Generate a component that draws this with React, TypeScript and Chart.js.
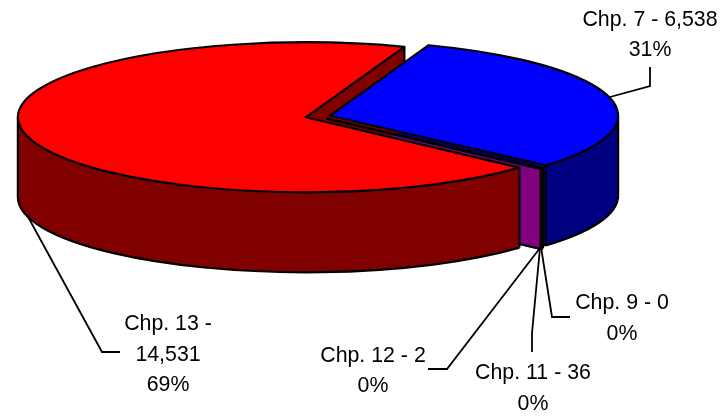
import React, { useEffect, useRef } from "react";
import { Chart, registerables } from "chart.js";

Chart.register(...registerables);

const categories = ["Chp. 7", "Chp. 9", "Chp. 11", "Chp. 12", "Chp. 13"];
const values = [6538, 0, 36, 2, 14531];
const topColors = ["#0000ff", "#ff00ff", "#ff00ff", "#ff00ff", "#ff0000"];
const wallColors = ["#000080", "#800080", "#800080", "#800080", "#800000"];

const labelLines = [
  ["Chp. 7 - 6,538", "31%"],
  ["Chp. 9 - 0", "0%"],
  ["Chp. 11 - 36", "0%"],
  ["Chp. 12 - 2", "0%"],
  ["Chp. 13 -", "14,531", "69%"],
];
const labelCenters = [650, 622, 533, 373, 168];
const labelBaselines = [
  [26, 56],
  [309, 340],
  [379, 410],
  [362, 392],
  [330, 361, 391],
];
const leaders = [
  [[610, 97], [650, 86], [650, 67]],
  [[541, 247], [552, 317], [570, 317]],
  [[540, 248], [532, 333], [532, 352]],
  [[540, 248], [447, 369], [428, 369]],
  [[27, 215], [102, 352], [120, 352]],
];

const CX = 318;
const CY = 116.5;
const RX = 288;
const RY = 75;
const DEPTH = 80;
const EXPLODE = 12.5;

const applyArcTransform = (ctx: any, arc: any, shift: number) => {
  const k = arc.outerRadius;
  const mid = (arc.startAngle + arc.endAngle) / 2;
  ctx.translate(
    CX + Math.cos(mid) * EXPLODE,
    CY + Math.sin(mid) * EXPLODE * (RY / RX) + shift
  );
  ctx.scale(RX / k, RY / k);
  ctx.translate(-arc.x, -arc.y);
};

const tracePath = (ctx: any, arc: any, shift: number, kind: string) => {
  ctx.save();
  applyArcTransform(ctx, arc, shift);
  ctx.beginPath();
  const r = arc.outerRadius;
  if (kind === "sector") {
    ctx.moveTo(arc.x, arc.y);
    ctx.arc(arc.x, arc.y, r, arc.startAngle, arc.endAngle);
    ctx.closePath();
  } else if (kind === "rim") {
    const a = Math.max(arc.startAngle, 0);
    const b = Math.min(arc.endAngle, Math.PI);
    if (b > a) ctx.arc(arc.x, arc.y, r, a, b);
  } else if (kind === "endEdge") {
    ctx.moveTo(arc.x, arc.y);
    ctx.lineTo(arc.x + Math.cos(arc.endAngle) * r, arc.y + Math.sin(arc.endAngle) * r);
  }
  ctx.restore();
};

const screenPoint = (arc: any, angle: number) => {
  const mid = (arc.startAngle + arc.endAngle) / 2;
  const ox = CX + Math.cos(mid) * EXPLODE;
  const oy = CY + Math.sin(mid) * EXPLODE * (RY / RX);
  return [ox + Math.cos(angle) * RX, oy + Math.sin(angle) * RY];
};

const vertical = (ctx: any, p: number[]) => {
  ctx.beginPath();
  ctx.moveTo(p[0], p[1]);
  ctx.lineTo(p[0], p[1] + DEPTH);
  ctx.stroke();
};

const fillEndFace = (ctx: any, arc: any) => {
  const mid = (arc.startAngle + arc.endAngle) / 2;
  const ax = CX + Math.cos(mid) * EXPLODE;
  const ay = CY + Math.sin(mid) * EXPLODE * (RY / RX);
  const p = screenPoint(arc, arc.endAngle);
  ctx.beginPath();
  ctx.moveTo(ax, ay);
  ctx.lineTo(p[0], p[1]);
  ctx.lineTo(p[0], p[1] + DEPTH);
  ctx.lineTo(ax, ay + DEPTH);
  ctx.closePath();
  ctx.fill();
};

const pie3dPlugin = {
  id: "pie3d",
  beforeDatasetsDraw(chart: any) {
    const ctx = chart.ctx;
    const arcs = chart.getDatasetMeta(0).data as any[];
    ctx.save();
    ctx.lineWidth = 2.2;
    ctx.lineJoin = "round";
    ctx.strokeStyle = "#000000";

    arcs.forEach((arc, i) => {
      if (values[i] === 0) return;
      ctx.fillStyle = wallColors[i];
      for (let d = DEPTH; d >= 0; d -= 1) {
        tracePath(ctx, arc, d, "sector");
        ctx.fill();
      }
      tracePath(ctx, arc, DEPTH, "rim");
      ctx.stroke();
      const fromTop = arc.endAngle + Math.PI / 2;
      if (Math.sin(fromTop) > 0) {
        fillEndFace(ctx, arc);
        if (Math.cos(fromTop) < 0) {
          tracePath(ctx, arc, DEPTH, "endEdge");
          ctx.stroke();
        }
        vertical(ctx, screenPoint(arc, arc.endAngle));
      }
      vertical(ctx, screenPoint(arc, arc.startAngle));
      [0, Math.PI].forEach((a) => {
        if (a > arc.startAngle && a < arc.endAngle) vertical(ctx, screenPoint(arc, a));
      });
    });

    arcs.forEach((arc, i) => {
      if (values[i] === 0) return;
      ctx.save();
      applyArcTransform(ctx, arc, 0);
      arc.draw(ctx);
      ctx.restore();
      tracePath(ctx, arc, 0, "sector");
      ctx.stroke();
    });

    ctx.lineWidth = 1.8;
    ctx.lineJoin = "miter";
    leaders.forEach((pts) => {
      ctx.beginPath();
      pts.forEach((p, j) => (j ? ctx.lineTo(p[0], p[1]) : ctx.moveTo(p[0], p[1])));
      ctx.stroke();
    });

    ctx.fillStyle = "#000000";
    ctx.font = '21.33px "Liberation Sans"';
    ctx.textAlign = "center";
    ctx.textBaseline = "alphabetic";
    labelLines.forEach((lines, i) => {
      lines.forEach((t, j) => ctx.fillText(t, labelCenters[i], labelBaselines[i][j]));
    });
    ctx.restore();
    return false;
  },
};

export default function App() {
  const ref = useRef<HTMLCanvasElement | null>(null);
  useEffect(() => {
    const chart = new Chart(ref.current as HTMLCanvasElement, {
      type: "pie",
      data: {
        labels: categories,
        datasets: [
          {
            data: values,
            backgroundColor: topColors,
            borderWidth: 0,
          },
        ],
      },
      options: {
        responsive: false,
        animation: false,
        rotation: 20,
        layout: { padding: 0 },
        plugins: {
          legend: { display: false },
          tooltip: { enabled: false },
        },
      },
      plugins: [pie3dPlugin],
    } as any);
    return () => chart.destroy();
  }, []);
  return (
    <div style={{ position: "absolute", left: 0, top: 0, width: 727, height: 416, background: "#fff" }}>
      <canvas ref={ref} width={727} height={416} style={{ display: "block" }} />
    </div>
  );
}
